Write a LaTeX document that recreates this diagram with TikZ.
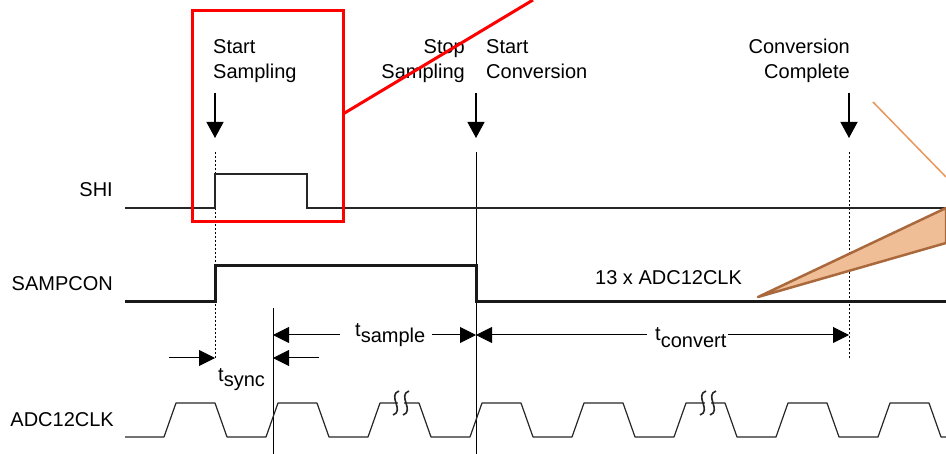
\documentclass[tikz,border=0pt]{standalone}
\usepackage{fontspec}
\setmainfont{Liberation Sans}
\usetikzlibrary{arrows.meta}
\definecolor{wedgefill}{RGB}{240,190,150}
\definecolor{wedgeline}{RGB}{170,105,60}
\definecolor{thinorange}{RGB}{232,150,90}
\tikzset{
  lbl/.style={font=\fontsize{20}{24}\selectfont, inner sep=0pt, text=black},
  sigline/.style={line width=1.2pt, black!85},
  sampline/.style={line width=3pt, black!90},
  evt/.style={line width=1.2pt, -{Triangle[length=16pt,width=17pt]}},
  dimarrow/.style={line width=1pt, -{Triangle[length=16pt,width=16pt]}},
  guide/.style={line width=1pt},
  dguide/.style={line width=1pt, dash pattern=on 2pt off 2pt},
  squig/.style={line width=1.6pt, black!85},
  hilite/.style={line width=3pt, red},
}
\begin{document}
\begin{tikzpicture}[x=1pt,y=-1pt]
\useasboundingbox (0,0) rectangle (946,454);
\clip (0,0) rectangle (946,454);

% ---- event labels
\node[lbl, anchor=base west] (ss1) at (213,54) {Start};
\node[lbl, anchor=base west] (ss2) at (213,79) {Sampling};
\node[lbl, anchor=base east] (sp1) at (465,54) {Stop};
\node[lbl, anchor=base east] (sp2) at (465,79) {Sampling};
\node[lbl, anchor=base west] (sc1) at (486,54) {Start};
\node[lbl, anchor=base west] (sc2) at (486,79) {Conversion};
\node[lbl, anchor=base east] (cc1) at (850,54) {Conversion};
\node[lbl, anchor=base east] (cc2) at (850,79) {Complete};

% ---- signal names
\node[lbl, anchor=base east] (shi) at (113,197) {SHI};
\node[lbl, anchor=base east] (sampcon) at (113,291) {SAMPCON};
\node[lbl, anchor=base east] (adcclk) at (114,427) {ADC12CLK};
\node[lbl, anchor=base west] (count) at (595,285) {13 x ADC12CLK};

% ---- event arrows
\coordinate (a1s) at (215,93);  \coordinate (a1e) at (215,138);
\coordinate (a2s) at (476,93);  \coordinate (a2e) at (476,138);
\coordinate (a3s) at (849,93);  \coordinate (a3e) at (849,138);
\draw[evt] (a1s) -- (a1e);
\draw[evt] (a2s) -- (a2e);
\draw[evt] (a3s) -- (a3e);

% ---- guide lines
\coordinate (g1t) at (215,152); \coordinate (g1b) at (215,358);
\coordinate (g2t) at (476,152); \coordinate (g2b) at (476,454);
\coordinate (g3t) at (849,152); \coordinate (g3b) at (849,358);
\coordinate (g4t) at (273,308); \coordinate (g4b) at (273,454);
\draw[dguide] (g1t) -- (g1b);
\draw[guide] (g2t) -- (g2b);
\draw[dguide] (g3t) -- (g3b);
\draw[guide] (g4t) -- (g4b);

% ---- SHI
\coordinate (shiA) at (125,208);
\coordinate (shiR) at (215,208);
\coordinate (shiF) at (307,174);
\coordinate (shiZ) at (946,208);
\draw[sigline] (shiA) -- (shiR) -- (215,174) -- (shiF) -- (307,208) -- (shiZ);

% ---- SAMPCON
\coordinate (scA) at (125,302);
\coordinate (scZ) at (946,302);
\draw[sampline, line join=miter] (scA) -- (215,302) -- (215,266) -- (476,266) -- (476,302) -- (scZ);

% ---- ADC12CLK
\coordinate (clkA) at (125,437);
\coordinate (clkZ) at (946,437);
\draw[sigline, line join=round] (clkA)
  \foreach \r in {164,266,...,878} { -- (\r,437) -- ({\r+12},403) -- ({\r+51},403) -- ({\r+63},437) }
  -- (clkZ);
% breaks
\fill[white] (398,397) rectangle (404,409);
\fill[white] (705,397) rectangle (711,409);
\foreach \c in {396,406,703,713}{
  \draw[squig] ({\c+3},391) .. controls ({\c-9},395) and ({\c+9},411) .. ({\c-3},415);
}

% ---- timing dimensions
\coordinate (tsL) at (273,335); \coordinate (tsLe) at (340,335);
\coordinate (tsRs) at (432,335); \coordinate (tsR) at (476,335);
\draw[dimarrow] (tsLe) -- (tsL);
\draw[dimarrow] (tsRs) -- (tsR);
\node[lbl, anchor=base west] (tsample) at (355,337) {t\raisebox{-6pt}{sample}};

\coordinate (tcL) at (476,335); \coordinate (tcLe) at (647,335);
\coordinate (tcRs) at (728,335); \coordinate (tcR) at (849,335);
\draw[dimarrow] (tcLe) -- (tcL);
\draw[dimarrow] (tcRs) -- (tcR);
\node[lbl, anchor=base west] (tconvert) at (655,341) {t\raisebox{-7pt}{convert}};

\coordinate (tyL) at (169,358); \coordinate (tyLe) at (215,358);
\coordinate (tyR) at (319,358); \coordinate (tyRe) at (273,358);
\draw[dimarrow] (tyL) -- (tyLe);
\draw[dimarrow] (tyR) -- (tyRe);
\node[lbl, anchor=base west] (tsync) at (218,382) {t\raisebox{-5pt}{sync}};

% ---- callouts
\coordinate (wt) at (758,297);
\coordinate (wu) at (946,208);
\coordinate (wl) at (946,243);
\filldraw[fill=wedgefill, draw=wedgeline, line width=2.5pt, line join=round] (wt) -- (wu) -- (wl) -- cycle;
\coordinate (os) at (873,102); \coordinate (oe) at (946,177);
\draw[thinorange, line width=1.5pt] (os) -- (oe);

\coordinate (rb1) at (192,11); \coordinate (rb2) at (343,222);
\draw[hilite] (rb1) rectangle (rb2);
\coordinate (rl1) at (343,114); \coordinate (rl2) at (533,0);
\draw[hilite] (rl1) -- (rl2);
\end{tikzpicture}
\end{document}
